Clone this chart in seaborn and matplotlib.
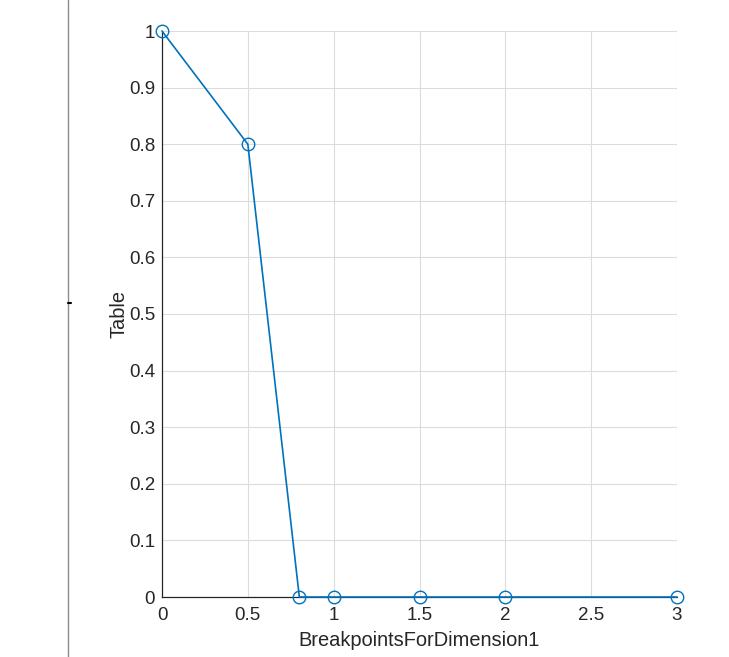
import numpy as np
import pandas as pd
import matplotlib
matplotlib.use("Agg")
import matplotlib.pyplot as plt
import seaborn as sns
from matplotlib.lines import Line2D

# ── Data ──────────────────────────────────────────────────────────────────────
breakpoints = [0, 0.5, 0.8, 1, 1.5, 2, 3]
table_values = [1, 0.8, 0, 0, 0, 0, 0]

x_ticks = [0, 0.5, 1, 1.5, 2, 2.5, 3]
x_tick_labels = ["0", "0.5", "1", "1.5", "2", "2.5", "3"]
y_ticks = [0, 0.1, 0.2, 0.3, 0.4, 0.5, 0.6, 0.7, 0.8, 0.9, 1]
y_tick_labels = ["0", "0.1", "0.2", "0.3", "0.4", "0.5", "0.6", "0.7", "0.8", "0.9", "1"]

LINE_COLOR = "#0072BD"
TEXT_COLOR = "#262626"

df = pd.DataFrame({"BreakpointsForDimension1": breakpoints, "Table": table_values})

# ── Plot ──────────────────────────────────────────────────────────────────────
sns.set_style("white")
plt.rcParams["font.family"] = ["Liberation Sans", "DejaVu Sans"]

fig = plt.figure(figsize=(7.29, 6.57), dpi=100)
ax = fig.add_axes([162 / 729, 1 - 597 / 657, (677 - 162) / 729, (597 - 31) / 657])

sns.lineplot(data=df, x="BreakpointsForDimension1", y="Table", ax=ax,
             color=LINE_COLOR, linewidth=1.2, marker="o", markersize=9,
             markerfacecolor="none", markeredgecolor=LINE_COLOR, markeredgewidth=1.0,
             clip_on=False, zorder=5)

ax.set_xlim(0, 3)
ax.set_ylim(0, 1)
ax.set_xticks(x_ticks)
ax.set_xticklabels(x_tick_labels)
ax.set_yticks(y_ticks)
ax.set_yticklabels(y_tick_labels)

ax.grid(True, color="#dcdcdc", linewidth=0.8)
ax.set_axisbelow(True)
for side in ["top", "right"]:
    ax.spines[side].set_visible(False)
for side in ["left", "bottom"]:
    ax.spines[side].set_color("#262626")
    ax.spines[side].set_linewidth(0.9)

ax.tick_params(axis="both", direction="in", length=5, width=0.9, color="#262626",
               labelsize=13.5, labelcolor=TEXT_COLOR)
ax.tick_params(axis="x", pad=7)
ax.tick_params(axis="y", pad=5)
ax.set_xlabel("BreakpointsForDimension1", fontsize=14.4, color=TEXT_COLOR, labelpad=5)
ax.set_ylabel("Table", fontsize=14.4, color=TEXT_COLOR, labelpad=0.5)

# left border of the surrounding panel
fig.add_artist(Line2D([68 / 729, 68 / 729], [0, 1], transform=fig.transFigure,
                      color="#8c8c8c", linewidth=1.0))
fig.add_artist(Line2D([68 / 729, 71 / 729], [1 - 303 / 657, 1 - 303 / 657],
                      transform=fig.transFigure, color="#000000", linewidth=1.5))

fig.savefig("out.png", dpi=100)
